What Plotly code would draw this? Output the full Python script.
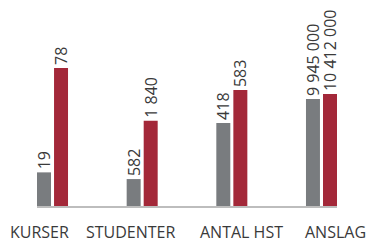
import plotly.graph_objects as go

categories = ["KURSER", "STUDENTER", "ANTAL HST", "ANSLAG"]
values_gray = [19, 582, 418, 9945000]
values_red = [78, 1840, 583, 10412000]
labels_gray = ["19", "582", "418", "9 945 000"]
labels_red = ["78", "1 840", "583", "10 412 000"]
# each category has its own scale (value units per plotted unit)
category_scale = [0.565, 21.6, 5.03, 93000]

gray_h = [v / s for v, s in zip(values_gray, category_scale)]
red_h = [v / s for v, s in zip(values_red, category_scale)]
xpos = list(range(len(categories)))

GRAY = "#797c7f"
RED = "#a32839"
TXT = "#3a3a3a"
FONT = "Open Sans"

fig = go.Figure()
for h, lab, col, off in [(gray_h, labels_gray, GRAY, -0.173), (red_h, labels_red, RED, 0.017)]:
    fig.add_trace(go.Bar(
        x=xpos, y=h, width=0.156, offset=off,
        marker=dict(color=col, line=dict(width=0)),
        text=lab, textposition="outside", textangle=-90,
        constraintext="none",
        textfont=dict(family=FONT, size=16, color=TXT),
        cliponaxis=False, hoverinfo="skip",
    ))

label_shift = [-13.5, -11.5, 9.5, 14]
for i, (c, sh) in enumerate(zip(categories, label_shift)):
    fig.add_annotation(
        x=i, y=0, xref="x", yref="y", text=c, showarrow=False,
        xshift=sh, yshift=-26, xanchor="center", yanchor="middle",
        font=dict(family=FONT, size=16, color=TXT),
    )

fig.update_layout(
    width=368, height=244,
    margin=dict(l=37, r=31, t=0, b=38, autoexpand=False),
    paper_bgcolor="white", plot_bgcolor="white",
    showlegend=False,
    barmode="overlay",
    xaxis=dict(range=[-0.173, 3.173], showgrid=False, zeroline=False,
               showticklabels=False, ticks="", showline=True,
               linecolor="#bdbdbd", linewidth=2, fixedrange=True),
    yaxis=dict(range=[0, 206], showgrid=False, zeroline=False,
               showticklabels=False, ticks="", showline=False,
               fixedrange=True),
)

fig.write_html("out.html", config={"displayModeBar": False},
               post_script="document.body.style.margin='0';")
